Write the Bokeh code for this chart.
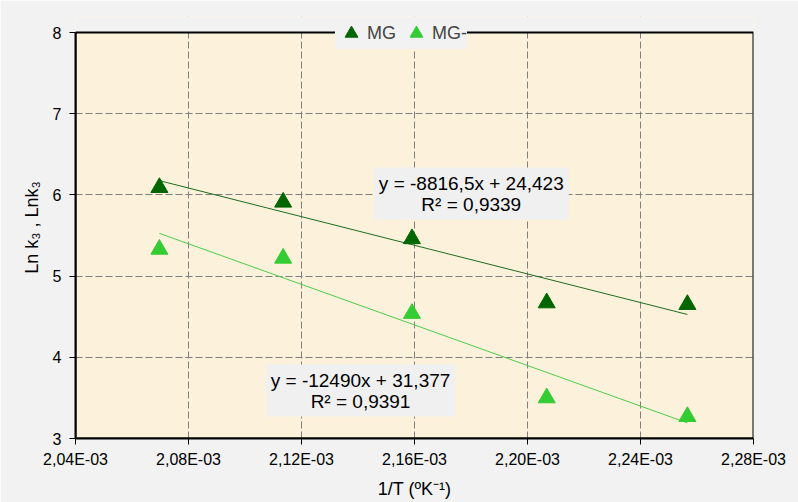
from bokeh.plotting import figure
from bokeh.models import (Label, Legend, LegendItem, FixedTicker, CustomJSTickFormatter,
                          Range1d, BoxAnnotation)
from bokeh.embed import file_html
from bokeh.resources import INLINE
import numpy as np

# data
inv_T = [2.0697e-3, 2.1135e-3, 2.1591e-3, 2.2068e-3, 2.2566e-3]
mg = [6.09, 5.91, 5.46, 4.67, 4.65]
mg_minus = [5.33, 5.22, 4.54, 3.50, 3.27]
fit_mg = (-8816.5, 24.423)
fit_mg_minus = (-12490.0, 31.377)
eq_mg = "y = -8816,5x + 24,423\nR² = 0,9339"
eq_mg_minus = "y = -12490x + 31,377\nR² = 0,9391"
x_ticks = [2.04e-3, 2.08e-3, 2.12e-3, 2.16e-3, 2.20e-3, 2.24e-3, 2.28e-3]
y_ticks = [3, 4, 5, 6, 7, 8]

FONT = "Liberation Sans"
DARK = "#006600"
LIGHT = "#33CC33"
BG = "#F2F2F2"

x0, x1 = x_ticks[0], x_ticks[-1]
y0, y1 = y_ticks[0], y_ticks[-1]
y_top = y1 + 16 / 81.2  # extra strip above the plot area so the legend can overlap the border

p = figure(width=798, height=502, output_backend="svg", toolbar_location=None,
           x_range=Range1d(x0, x1), y_range=Range1d(y0, y_top),
           min_border_left=75, min_border_right=45, min_border_top=16, min_border_bottom=64)
p.background_fill_color = "#FCF2DC"
p.border_fill_color = BG
p.outline_line_color = None

for g in (p.xgrid, p.ygrid):
    g.grid_line_color = "#7F7F7F"
    g.grid_line_dash = "7 3"
    g.grid_line_width = 1
p.xgrid.ticker = FixedTicker(ticks=x_ticks)
p.ygrid.ticker = FixedTicker(ticks=y_ticks)

p.xaxis.ticker = FixedTicker(ticks=x_ticks)
p.yaxis.ticker = FixedTicker(ticks=y_ticks)
p.yaxis.bounds = (y0, y1)
p.xaxis.formatter = CustomJSTickFormatter(code="""
const s = (tick*1000).toFixed(2).replace('.', ',');
return s + 'E-03';
""")
for ax in (p.xaxis, p.yaxis):
    ax.axis_line_color = "black"
    ax.axis_line_width = 2
    ax.major_tick_line_color = "black"
    ax.major_tick_line_width = 1
    ax.major_tick_out = 6
    ax.major_tick_in = 0
    ax.minor_tick_line_color = None
    ax.major_label_text_font = FONT
    ax.major_label_text_font_size = "16px"
    ax.major_label_text_color = "black"
    ax.axis_label_text_font = FONT
    ax.axis_label_text_font_size = "18px"
    ax.axis_label_text_font_style = "normal"
    ax.axis_label_text_color = "black"
p.xaxis.major_label_standoff = 6
p.yaxis.major_label_standoff = 8
p.xaxis.axis_label = "1/T (ºK⁻¹)"
p.yaxis.axis_label = "Ln k₃ , Lnk₃"
p.xaxis.axis_label_standoff = 8
p.yaxis.axis_label_standoff = 8

# strip above the plot area, then the plot-area border
p.add_layout(BoxAnnotation(left=x0, right=x1, bottom=y1, top=y_top,
                           fill_color=BG, fill_alpha=1, line_color=None, level="underlay"))
p.add_layout(BoxAnnotation(left=x0, right=x1, bottom=y0, top=y1,
                           fill_alpha=0, line_color="black", line_width=2, line_alpha=1))

# trendlines
xs = np.array([min(inv_T), max(inv_T)])
p.line(xs, fit_mg[0] * xs + fit_mg[1], line_color="#1E6B1E", line_width=1)
p.line(xs, fit_mg_minus[0] * xs + fit_mg_minus[1], line_color="#4CCB4C", line_width=1)

r1 = p.scatter(inv_T, mg, marker="triangle", size=17, fill_color=DARK, line_color=DARK)
r2 = p.scatter(inv_T, mg_minus, marker="triangle", size=17, fill_color=LIGHT, line_color=LIGHT)

legend = Legend(items=[LegendItem(label="MG", renderers=[r1]),
                       LegendItem(label="MG-", renderers=[r2])],
                orientation="horizontal", location=(260, 389),
                background_fill_color=BG, background_fill_alpha=1,
                border_line_color=None, label_text_font=FONT, label_text_font_size="18px",
                label_text_baseline="middle",
                glyph_width=32, glyph_height=32, label_height=32, spacing=4, padding=0, margin=0,
                label_standoff=-8)
p.add_layout(legend, "center")

for txt, lx, ly in ((eq_mg, 2.1801e-3, 6.017), (eq_mg_minus, 2.1409e-3, 3.591)):
    p.add_layout(Label(x=lx, y=ly, text=txt, text_align="center", text_baseline="middle",
                       text_font=FONT, text_font_size="19px", text_color="black",
                       background_fill_color="#F0F0F0", background_fill_alpha=1,
                       padding=5, text_line_height=1.0))

open("out.html", "w").write(file_html(p, INLINE))
